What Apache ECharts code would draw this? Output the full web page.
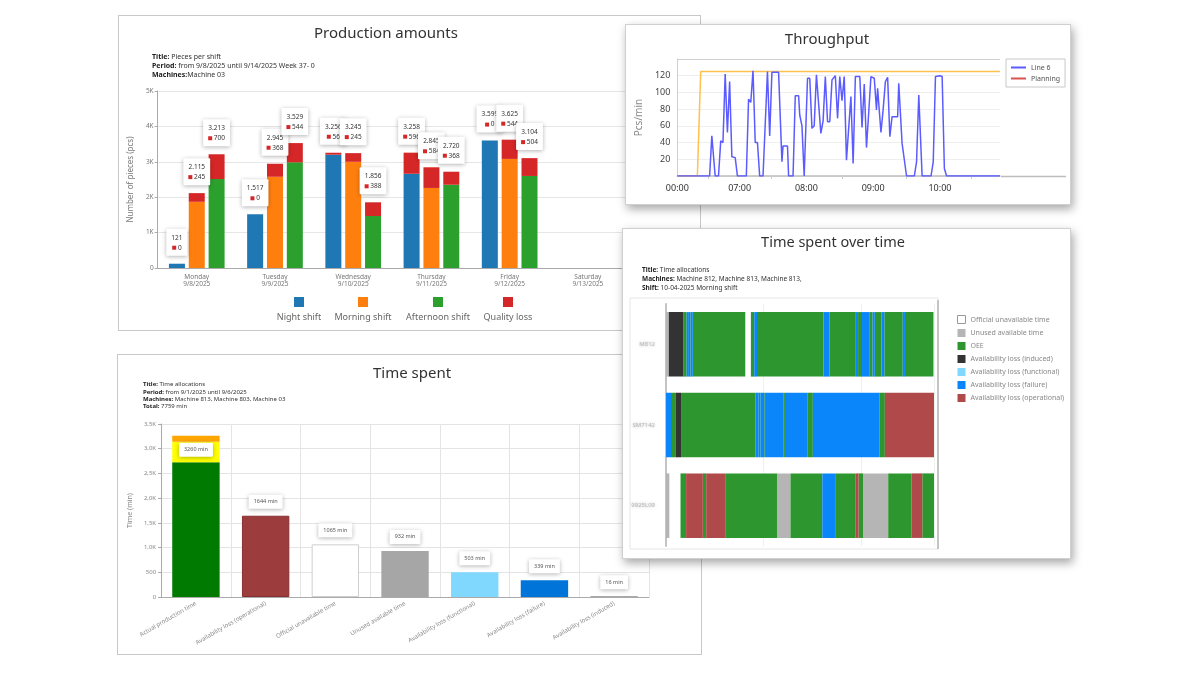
<!DOCTYPE html>
<html>
<head>
<meta charset="utf-8">
<title>Production dashboard</title>
<script src="https://cdn.jsdelivr.net/npm/echarts@6/dist/echarts.min.js"></script>
<style>
  body { margin: 0; width: 1200px; height: 675px; background: #fff; position: relative; overflow: hidden; }
  .panel { position: absolute; box-sizing: border-box; background: #fff; }
  #production { left: 118px; top: 15px; width: 583px; height: 316px; border: 1px solid #c8c8c8; z-index: 1; }
  #timeSpent { left: 117px; top: 354px; width: 585px; height: 301px; border: 1px solid #c8c8c8; z-index: 1; }
  #throughput { left: 625px; top: 24px; width: 446px; height: 181px; border: 1px solid #d0d0d0; box-shadow: 2px 4px 9px rgba(0,0,0,0.35); z-index: 2; }
  #overTime { left: 622px; top: 228px; width: 449px; height: 331px; border: 1px solid #d0d0d0; box-shadow: 2px 4px 9px rgba(0,0,0,0.35); z-index: 2; }
</style>
</head>
<body>
<div id="production" class="panel"></div>
<div id="timeSpent" class="panel"></div>
<div id="throughput" class="panel"></div>
<div id="overTime" class="panel"></div>

<script>
const FONT = "'Noto Sans', sans-serif";

// ---------- Production amounts ----------
const days = ['Monday\n9/8/2025', 'Tuesday\n9/9/2025', 'Wednesday\n9/10/2025', 'Thursday\n9/11/2025', 'Friday\n9/12/2025', 'Saturday\n9/13/2025'];
const nightTotal = [121, 1517, 3256, 3258, 3599, null];
const nightLoss = [0, 0, 56, 596, 0, null];
const morningTotal = [2115, 2945, 3245, 2845, 3625, null];
const morningLoss = [245, 368, 245, 584, 544, null];
const afternoonTotal = [3213, 3529, 1856, 2720, 3104, null];
const afternoonLoss = [700, 544, 388, 368, 504, null];
const shiftNames = ['Night shift', 'Morning shift', 'Afternoon shift', 'Quality loss'];
const shiftColors = ['#1f77b4', '#ff7f0e', '#2ca02c', '#d62728'];

// ---------- Throughput (minutes since midnight) ----------
const lineTimes = [364, 393, 395, 398, 401, 403, 405, 407, 409, 411, 413, 416, 418, 426, 428, 430, 432, 434, 436, 438,
  441, 445, 447, 449, 455, 458, 459, 463, 464, 468, 470, 473, 474, 476, 478, 481, 483, 485, 487, 489,
  491, 493, 495, 497, 499, 501, 503, 506, 508, 510, 512, 514, 516, 520, 522, 524, 528, 530, 532, 534,
  536, 538, 541, 543, 544, 547, 549, 551, 553, 555, 557, 562, 563, 566, 567, 570, 577, 579, 581, 584,
  592, 594, 596, 600, 602, 604, 606, 654];
const lineValues = [0, 0, 48, 0, 0, 42, 40, 122, 52, 113, 23, 22, 0, 0, 92, 88, 126, 40, 40, 0,
  0, 125, 48, 124, 124, 17, 36, 36, 0, 0, 96, 96, 73, 60, 0, 117, 117, 57, 60, 121,
  86, 51, 66, 119, 65, 65, 115, 120, 69, 119, 90, 119, 19, 95, 15, 119, 119, 58, 110, 34,
  76, 119, 117, 79, 105, 52, 80, 113, 118, 47, 71, 71, 111, 39, 38, 0, 0, 17, 97, 0,
  0, 17, 119, 120, 119, 9, 0, 0];
const planTimes = [364, 382, 385, 654];
const planValues = [0, 0, 125, 125];
const timeLabels = [364, 420, 480, 540, 600];
const timeTicks = [392, 448, 512, 570, 628];

// ---------- Time spent over time (minutes into shift) ----------
const allocNames = ['Official unavailable time', 'Unused available time', 'OEE', 'Availability loss (induced)',
  'Availability loss (functional)', 'Availability loss (failure)', 'Availability loss (operational)'];
const allocColors = ['#ffffff', '#b5b5b5', '#2e962e', '#333333', '#80d8ff', '#0a86fa', '#b04a4a'];
const machineRows = ['M812', 'SM7142', '9925L09'];
// [start, end, allocation index]
const row1Segments = [[0, 5, 1], [5, 31, 3], [31, 37, 2], [37, 41, 5], [41, 44, 2], [44, 48, 5], [48, 142, 2], [142, 152, 0],
  [152, 158, 2], [158, 163, 5], [163, 282, 2], [282, 293, 5], [293, 340, 2], [340, 344, 5], [344, 351, 2], [351, 365, 5],
  [365, 370, 2], [370, 374, 5], [374, 386, 2], [386, 391, 5], [391, 424, 2], [424, 428, 5], [428, 479, 2]];
const row2Segments = [[0, 9, 5], [9, 17, 2], [17, 27, 3], [27, 160, 2], [160, 166, 5], [166, 169, 2], [169, 176, 5],
  [176, 179, 2], [179, 210, 5], [210, 213, 2], [213, 253, 5], [253, 263, 2], [263, 382, 5], [382, 392, 2], [392, 480, 6]];
const row3Segments = [[0, 6, 1], [6, 26, 0], [26, 36, 2], [36, 66, 6], [66, 72, 2], [72, 106, 6], [106, 199, 2], [199, 223, 1],
  [223, 280, 2], [280, 303, 5], [303, 339, 2], [339, 345, 6], [345, 353, 2], [353, 398, 1], [398, 440, 2], [440, 459, 6], [459, 480, 2]];

// ---------- Time spent ----------
const timeCats = ['Actual production time', 'Availability loss (operational)', 'Official unavailable time', 'Unused available time',
  'Availability loss (functional)', 'Availability loss (failure)', 'Availability loss (induced)'];
const timeBase = [2725, 1644, 1065, 932, 503, 339, 16];
const timeYellow = [415, null, null, null, null, null, null];
const timeOrange = [120, null, null, null, null, null, null];
const timeTotals = [3260, 1644, 1065, 932, 503, 339, 16];
const timeColors = ['#007a00', '#9c3c3c', '#ffffff', '#a6a6a6', '#80d8ff', '#0074d9', '#8c8c8c'];

// ================= charts =================
const fmtPcs = v => v >= 1000 ? Math.floor(v / 1000) + '.' + String(v % 1000).padStart(3, '0') : String(v);

const boxLabel = {
  backgroundColor: '#fff',
  borderRadius: 1,
  shadowColor: 'rgba(0,0,0,0.3)',
  shadowBlur: 4,
  shadowOffsetY: 1
};

function metaText(lines) {
  return lines.map(l => '{b|' + l[0] + '}{n|' + l[1] + '}').join('\n');
}
function metaRich(size, lh) {
  return {
    b: { fontFamily: FONT, fontSize: size, fontWeight: 'bold', fill: '#222', lineHeight: lh },
    n: { fontFamily: FONT, fontSize: size, fill: '#333', lineHeight: lh }
  };
}

// --- Production amounts ---
const prodChart = echarts.init(document.getElementById('production'));

function shiftSeries(name, totals, losses, color, stack) {
  const base = totals.map((t, i) => t == null ? null : t - losses[i]);
  return [
    { name, type: 'bar', stack, data: base, barWidth: 16, barGap: '24%', itemStyle: { color } },
    {
      name: 'Quality loss', type: 'bar', stack, data: losses, barWidth: 16, barGap: '24%',
      itemStyle: { color: shiftColors[3] },
      label: Object.assign({
        show: true, position: 'top', distance: 8, padding: [4, 5, 3, 5],
        formatter: p => '{t|' + fmtPcs(totals[p.dataIndex]) + '}\n{sq|}{v| ' + p.value + '}',
        rich: {
          t: { fontFamily: FONT, fontSize: 6.5, color: '#333', lineHeight: 10 },
          sq: { width: 4, height: 4, backgroundColor: shiftColors[3] },
          v: { fontFamily: FONT, fontSize: 6.5, color: '#333', lineHeight: 10 }
        }
      }, boxLabel)
    }
  ];
}

const legendCenters = [180, 244, 319, 389];
prodChart.setOption({
  animation: false,
  textStyle: { fontFamily: FONT },
  grid: { left: 34, right: 73, top: 75, bottom: 62 },
  xAxis: {
    type: 'category', data: days,
    axisLine: { lineStyle: { color: '#aaa' } },
    axisTick: { length: 4, lineStyle: { color: '#aaa' } },
    axisLabel: { fontSize: 6.5, color: '#777', lineHeight: 7.5, interval: 0, margin: 5 }
  },
  yAxis: {
    type: 'value', min: 0, max: 5000, interval: 1000,
    name: 'Number of pieces (pcs)', nameLocation: 'middle', nameGap: 16,
    nameTextStyle: { fontSize: 8, color: '#777' },
    axisLine: { show: true, lineStyle: { color: '#aaa' } },
    axisTick: { show: true, length: 3, lineStyle: { color: '#aaa' } },
    axisLabel: { fontSize: 6.5, color: '#777', margin: 4, formatter: v => v === 0 ? '0' : v / 1000 + 'K' },
    splitLine: { lineStyle: { color: '#e6e6e6' } }
  },
  series: [
    ...shiftSeries(shiftNames[0], nightTotal, nightLoss, shiftColors[0], 'night'),
    ...shiftSeries(shiftNames[1], morningTotal, morningLoss, shiftColors[1], 'morning'),
    ...shiftSeries(shiftNames[2], afternoonTotal, afternoonLoss, shiftColors[2], 'afternoon')
  ],
  graphic: [
    { type: 'text', x: 267, y: 18, style: { text: 'Production amounts', fontFamily: FONT, fontSize: 15, fill: '#333', textAlign: 'center', textVerticalAlign: 'middle' } },
    {
      type: 'text', x: 33, y: 37,
      style: {
        text: metaText([['Title: ', 'Pieces per shift'], ['Period: ', 'from 9/8/2025 until 9/14/2025 Week 37- 0'], ['Machines:', 'Machine 03']]),
        rich: metaRich(7, 8.7)
      }
    },
    ...shiftNames.map((n, i) => ({
      type: 'group', x: legendCenters[i], y: 281,
      children: [
        { type: 'rect', shape: { x: -5, y: 0, width: 10, height: 10 }, style: { fill: shiftColors[i] } },
        { type: 'text', x: 0, y: 20, style: { text: n, fontFamily: FONT, fontSize: 9, fill: '#666', textAlign: 'center', textVerticalAlign: 'middle' } }
      ]
    }))
  ]
});

// --- Throughput ---
const hhmm = v => String(Math.floor(v / 60)).padStart(2, '0') + ':' + String(v % 60).padStart(2, '0');
const tpChart = echarts.init(document.getElementById('throughput'));
tpChart.setOption({
  animation: false,
  textStyle: { fontFamily: FONT },
  grid: { left: 47, right: 70, top: 34, bottom: 28 },
  legend: {
    orient: 'vertical', left: 380, top: 34, padding: [5, 5, 5, 5], itemGap: 4,
    borderColor: '#c8c8c8', borderWidth: 1, backgroundColor: '#fff',
    icon: 'rect', itemWidth: 15, itemHeight: 2,
    textStyle: { fontSize: 7, color: '#555' },
    data: [
      { name: 'Line 6', itemStyle: { color: '#5b5bff' } },
      { name: 'Planning', itemStyle: { color: '#d9534f' } }
    ]
  },
  xAxis: {
    type: 'value', min: 364, max: 654,
    axisLine: { show: true, lineStyle: { color: '#bdbdbd', width: 1.5 } },
    axisTick: { show: true, customValues: timeTicks, length: 3, lineStyle: { color: '#ccc' } },
    axisLabel: { customValues: timeLabels, formatter: v => v === 364 ? '00:00' : hhmm(v), fontSize: 9, color: '#333', margin: 8 },
    splitLine: { show: false }
  },
  yAxis: {
    type: 'value', min: 0, max: 140, interval: 20,
    name: 'Pcs/min', nameLocation: 'middle', nameGap: 32,
    nameTextStyle: { fontSize: 10, color: '#888' },
    axisLine: { show: true, lineStyle: { color: '#d0d0d0' } },
    axisTick: { show: false },
    axisLabel: { fontSize: 9, color: '#444', margin: 7, formatter: v => (v === 0 || v === 140) ? '' : v },
    splitLine: { lineStyle: { color: ['#eee', '#eee', '#eee', '#eee', '#eee', '#eee', '#eee', '#cfcfcf'] } }
  },
  series: [
    { name: 'Line 6', type: 'line', data: lineTimes.map((t, i) => [t, lineValues[i]]), symbol: 'none', lineStyle: { color: '#5b5bff', width: 1.5 }, itemStyle: { color: '#5b5bff' }, z: 3 },
    { name: 'Planning', type: 'line', data: planTimes.map((t, i) => [t, planValues[i]]), symbol: 'none', lineStyle: { color: '#ffc04d', width: 1.5 }, itemStyle: { color: '#ffc04d' }, z: 2 }
  ],
  graphic: [
    { type: 'text', x: 201, y: 15, style: { text: 'Throughput', fontFamily: FONT, fontSize: 15, fill: '#333', textAlign: 'center', textVerticalAlign: 'middle' } },
    { type: 'line', shape: { x1: 375, y1: 151.5, x2: 440, y2: 151.5 }, style: { stroke: '#bdbdbd', lineWidth: 1.5 } }
  ]
});

// --- Time spent over time ---
const otChart = echarts.init(document.getElementById('overTime'));
const allRows = [row1Segments, row2Segments, row3Segments];
const otSeries = allocNames.map((name, k) => ({
  name, type: 'custom',
  itemStyle: { color: allocColors[k] },
  encode: { x: [1, 2], y: 0 },
  data: allRows.flatMap((segs, r) => segs.filter(s => s[2] === k).map(s => [r, s[0], s[1]])),
  renderItem: (params, api) => {
    const r = api.value(0);
    const p0 = api.coord([api.value(1), r]);
    const p1 = api.coord([api.value(2), r]);
    const h = api.size([0, 1])[1] * 0.8;
    return { type: 'rect', shape: { x: p0[0], y: p0[1] - h / 2, width: p1[0] - p0[0], height: h }, style: api.style() };
  }
}));
otChart.setOption({
  animation: false,
  textStyle: { fontFamily: FONT },
  grid: { left: 43, right: 136, top: 75, bottom: 12 },
  legend: {
    orient: 'vertical', left: 329, top: 81, itemGap: 5, itemWidth: 8, itemHeight: 8, icon: 'rect',
    textStyle: { fontSize: 7, color: '#888' },
    data: allocNames.map((n, k) => k === 0
      ? { name: n, itemStyle: { color: '#fff', borderColor: '#999', borderWidth: 1 } }
      : { name: n })
  },
  xAxis: {
    type: 'value', min: 0, max: 480, interval: 175,
    axisLine: { show: false }, axisTick: { show: false }, axisLabel: { show: false },
    splitLine: { lineStyle: { color: '#eef2ee' } }
  },
  yAxis: {
    type: 'category', data: machineRows, inverse: true, offset: 5,
    axisLine: { show: true, lineStyle: { color: '#c4c4c4', width: 2 } },
    axisTick: { show: false },
    axisLabel: { fontSize: 6, color: 'rgba(150,150,150,0.6)', textShadowColor: 'rgba(120,120,120,0.9)', textShadowBlur: 3, margin: 6 }
  },
  series: otSeries,
  graphic: [
    { type: 'text', x: 210, y: 14, style: { text: 'Time spent over time', fontFamily: FONT, fontSize: 14.5, fill: '#333', textAlign: 'center', textVerticalAlign: 'middle' } },
    {
      type: 'text', x: 19, y: 37,
      style: {
        text: metaText([['Title: ', 'Time allocations'], ['Machines: ', 'Machine 812, Machine 813, Machine 813,'], ['Shift: ', '10-04-2025 Morning shift']]),
        rich: metaRich(6.5, 9)
      }
    },
    { type: 'rect', z: -1, shape: { x: 7, y: 69, width: 308, height: 251 }, style: { fill: 'none', stroke: '#e6e6e6', lineWidth: 1 } },
    { type: 'line', shape: { x1: 315, y1: 71, x2: 315, y2: 320 }, style: { stroke: '#c4c4c4', lineWidth: 2 } }
  ]
});

// --- Time spent ---
const tsChart = echarts.init(document.getElementById('timeSpent'));
const tsLabel = Object.assign({
  show: true, padding: [4, 5, 4, 5],
  fontFamily: FONT, fontSize: 5.5, color: '#555'
}, boxLabel);
const fmtK = v => v === 0 ? '0' : v < 1000 ? String(v) : (v / 1000).toFixed(1).replace('.', ',') + 'K';
tsChart.setOption({
  animation: false,
  textStyle: { fontFamily: FONT },
  grid: { left: 39, right: 52, top: 69, bottom: 57 },
  xAxis: {
    type: 'category', data: timeCats,
    axisLine: { lineStyle: { color: '#aaa' } },
    axisTick: { length: 4, lineStyle: { color: '#aaa' } },
    axisLabel: { rotate: 30, interval: 0, fontSize: 6, color: '#888', margin: 6 },
    splitLine: { show: true, lineStyle: { color: '#e4e4e4' } }
  },
  yAxis: {
    type: 'value', min: 0, max: 3500, interval: 500,
    name: 'Time (min)', nameLocation: 'middle', nameGap: 20,
    nameTextStyle: { fontSize: 7, color: '#888' },
    axisLine: { show: true, lineStyle: { color: '#aaa' } },
    axisTick: { show: true, length: 3, lineStyle: { color: '#aaa' } },
    axisLabel: { fontSize: 6, color: '#888', margin: 5, formatter: fmtK },
    splitLine: { lineStyle: { color: '#e4e4e4' } }
  },
  series: [
    {
      name: 'Time', type: 'bar', stack: 'time', barWidth: '68%',
      data: timeBase.map((v, i) => ({
        value: v,
        itemStyle: { color: timeColors[i], borderColor: i === 2 ? '#cfcfcf' : i === 1 ? '#8a2f2f' : timeColors[i], borderWidth: i === 2 || i === 1 ? 1 : 0 },
        label: i === 0 ? { show: false } : undefined
      })),
      label: Object.assign({ position: 'top', distance: 7, formatter: p => timeTotals[p.dataIndex] + ' min' }, tsLabel)
    },
    { name: 'Yellow', type: 'bar', stack: 'time', barWidth: '68%', data: timeYellow, itemStyle: { color: '#ffff00' } },
    {
      name: 'Orange', type: 'bar', stack: 'time', barWidth: '68%', data: timeOrange, itemStyle: { color: '#ffa500' },
      label: Object.assign({ position: 'insideTop', distance: 7, formatter: p => timeTotals[p.dataIndex] + ' min' }, tsLabel)
    }
  ],
  graphic: [
    { type: 'text', x: 294, y: 19, style: { text: 'Time spent', fontFamily: FONT, fontSize: 15, fill: '#333', textAlign: 'center', textVerticalAlign: 'middle' } },
    {
      type: 'text', x: 25, y: 26,
      style: {
        text: metaText([['Title: ', 'Time allocations'], ['Period: ', 'from 9/1/2025 until 9/6/2025'], ['Machines: ', 'Machine 813, Machine 803, Machine 03'], ['Total: ', '7759 min']]),
        rich: metaRich(6, 7.3)
      }
    }
  ]
});
</script>
</body>
</html>
